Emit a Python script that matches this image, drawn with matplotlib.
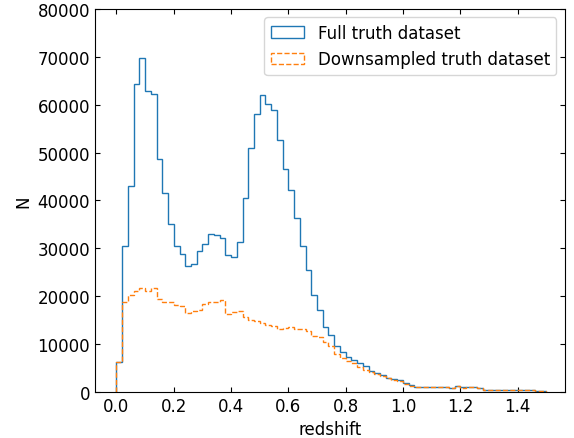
import numpy as np
import matplotlib.pyplot as plt

plt.rcParams.update({
    'font.family': 'DejaVu Sans',
    'font.size': 12,
    'xtick.direction': 'in',
    'ytick.direction': 'in',
    'xtick.top': True,
    'ytick.right': True,
})

# redshift bins, width 0.02 from 0 to 1.5
bin_edges = np.round(np.arange(0, 1.5001, 0.02), 2)
bin_centers = 0.5 * (bin_edges[:-1] + bin_edges[1:])

full_counts = [
    6300, 30500, 43000, 64300, 69700, 62900, 62300, 48700, 41600, 35000,
    30400, 28700, 26300, 26700, 29400, 30800, 33000, 32700, 32200, 28500,
    28200, 31400, 40600, 50900, 58000, 62000, 60100, 58800, 52700, 46600,
    42200, 36400, 30500, 25500, 20300, 17000, 13600, 11900, 9500, 8200,
    7200, 6700, 6100, 5300, 4400, 3900, 3500, 2900, 2700, 2400,
    1800, 1300, 1050, 1000, 1000, 1000, 1000, 1000, 850, 1200,
    950, 1000, 900, 750, 400, 300, 350, 400, 400, 300,
    250, 250, 250, 200, 200,
]

down_counts = [
    6300, 18800, 20300, 21000, 21700, 21000, 21700, 19400, 18800, 18700,
    18200, 17900, 16500, 16800, 17100, 18400, 18800, 18700, 19100, 16300,
    16600, 16800, 15700, 14900, 14700, 14300, 14000, 13700, 13100, 13300,
    13500, 13200, 13100, 12600, 11700, 11400, 10300, 9600, 7900, 7100,
    6500, 5900, 5100, 4600, 4100, 3700, 3200, 2800, 2500, 2200,
    1700, 1250, 1050, 1000, 1000, 1000, 1000, 1000, 800, 1250,
    850, 1050, 950, 800, 450, 300, 350, 400, 400, 300,
    250, 250, 250, 200, 200,
]

fig, ax = plt.subplots(figsize=(5.74, 4.39), dpi=100)
fig.subplots_adjust(left=0.1655, right=0.984, top=0.977, bottom=0.1055)

ax.hist(bin_centers, bins=bin_edges, weights=full_counts, histtype='step',
        color='C0', lw=1.0, label='Full truth dataset')
ax.hist(bin_centers, bins=bin_edges, weights=down_counts, histtype='step',
        color='C1', lw=1.0, ls='--', label='Downsampled truth dataset')

ax.set_xlim(-0.075, 1.565)
ax.set_ylim(0, 80000)
ax.set_xlabel('redshift')
ax.set_ylabel('N')
ax.legend(loc='upper right')

fig.savefig('out.png', dpi=100)
